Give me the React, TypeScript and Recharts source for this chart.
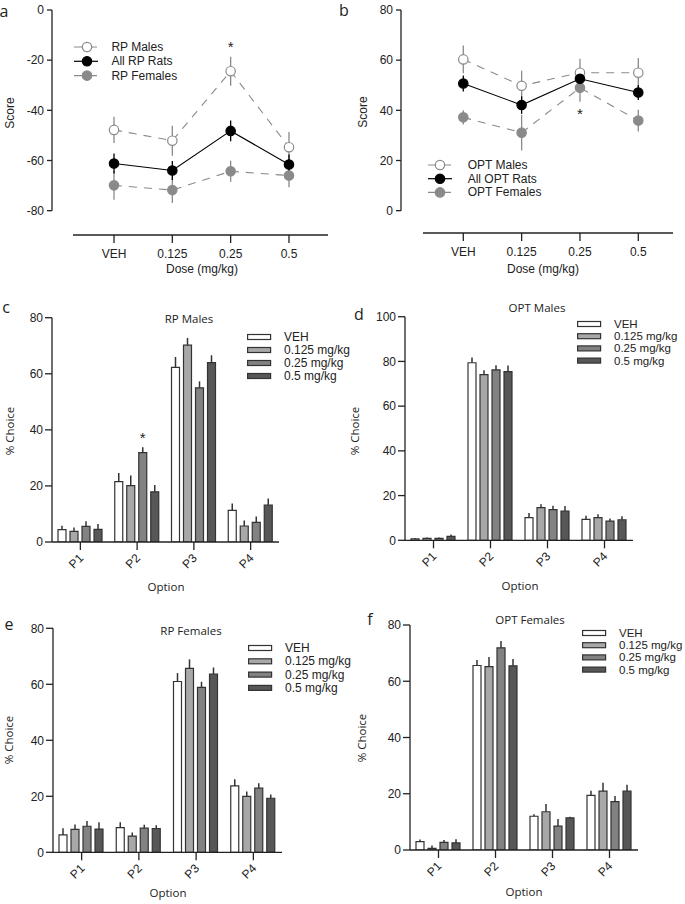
import React from 'react'
import {
  LineChart, Line, BarChart, Bar, XAxis, YAxis, ErrorBar,
  ReferenceLine, Legend, LabelList,
} from 'recharts'

// --- dose-response scores (panels a, b) ---
const doses = ['VEH', '0.125', '0.25', '0.5']

const rpMales = [-47.8, -52.1, -24.4, -54.7]
const rpMalesSem = [5.2, 6.0, 5.8, 6.1]
const rpAll = [-61.2, -64.0, -48.2, -61.6]
const rpAllSem = [4.0, 3.8, 4.1, 4.0]
const rpFemales = [-69.9, -71.8, -64.3, -66.0]
const rpFemalesSem = [5.7, 5.1, 4.2, 4.7]

const optMales = [60.3, 49.8, 55.0, 55.0]
const optMalesSem = [5.5, 6.0, 5.6, 5.9]
const optAll = [50.7, 42.1, 52.6, 47.1]
const optAllSem = [3.2, 3.5, 2.5, 3.0]
const optFemales = [37.2, 31.1, 49.0, 35.9]
const optFemalesSem = [2.8, 7.1, 5.6, 4.3]

// --- % choice per option (panels c-f), rows = VEH, 0.125, 0.25, 0.5 ---
const options = ['P1', 'P2', 'P3', 'P4']
const doseNames = ['VEH', '0.125 mg/kg', '0.25 mg/kg', '0.5 mg/kg']

const rpMalesPct = [
  [4.4, 21.5, 62.3, 11.3],
  [3.8, 20.1, 70.2, 5.7],
  [5.6, 31.9, 55.0, 7.0],
  [4.5, 17.9, 64.0, 13.2],
]
const rpMalesPctSem = [
  [1.4, 3.1, 3.7, 2.4],
  [1.4, 3.6, 2.6, 2.0],
  [1.8, 1.9, 2.3, 2.1],
  [1.9, 2.4, 2.6, 2.3],
]
const optMalesPct = [
  [0.6, 79.4, 10.1, 9.4],
  [0.9, 74.1, 14.6, 10.1],
  [0.9, 76.2, 13.7, 8.6],
  [1.8, 75.4, 13.1, 9.2],
]
const optMalesPctSem = [
  [0.4, 2.4, 2.1, 1.6],
  [0.4, 1.9, 1.5, 1.6],
  [0.4, 2.1, 1.8, 1.2],
  [0.8, 2.8, 2.2, 1.5],
]
const rpFemalesPct = [
  [6.2, 8.8, 61.0, 23.7],
  [8.2, 5.8, 65.7, 20.0],
  [9.3, 8.6, 58.9, 22.9],
  [8.3, 8.5, 63.6, 19.3],
]
const rpFemalesPctSem = [
  [2.4, 1.9, 3.0, 2.4],
  [1.7, 1.3, 3.2, 1.7],
  [1.9, 1.2, 2.0, 1.8],
  [2.4, 1.2, 2.4, 1.3],
]
const optFemalesPct = [
  [3.0, 65.6, 12.0, 19.4],
  [0.6, 65.2, 13.6, 20.9],
  [2.7, 71.9, 8.5, 17.2],
  [2.5, 65.5, 11.4, 20.9],
]
const optFemalesPctSem = [
  [0.7, 2.0, 0.7, 1.7],
  [1.0, 3.4, 2.8, 3.0],
  [0.9, 2.4, 2.5, 2.0],
  [1.3, 2.4, 0.4, 2.3],
]

const barFills = ['#ffffff', '#a8a8a8', '#828282', '#575757']
const GREY = '#8a8a8a'
const INK = '#222'
const ARIAL = '"Liberation Sans", Arial, sans-serif'
const OPEN = '"Open Sans", "Noto Sans", sans-serif'

const tickStyle = { fontSize: 12, fill: INK, fontFamily: ARIAL }
const axisStroke = { stroke: INK, strokeWidth: 1.3 }

const buildDoseRows = (m: number[], me: number[], a: number[], ae: number[], f: number[], fe: number[]) =>
  doses.map((_, i) => ({ x: i, males: m[i], mErr: me[i], all: a[i], aErr: ae[i], females: f[i], fErr: fe[i] }))

const buildChoiceRows = (pct: number[][], sem: number[][]) =>
  options.map((o, i) => {
    const row: any = { option: o }
    pct.forEach((vals, d) => {
      row['d' + d] = vals[i]
      row['e' + d] = [0, sem[d][i]]
    })
    return row
  })

// asterisk drawn above/below a chosen point or bar
const starAt = (idx: number, dy: number) => (p: any) => {
  if (p.index !== idx) return null
  const vb = p.viewBox || p
  return (
    <text x={vb.x + (vb.width || 0) / 2} y={vb.y + dy} textAnchor="middle" fontSize={15} fill={INK} fontFamily={ARIAL}>
      *
    </text>
  )
}

// slanted option labels under the bar groups
const optionTick = (p: any) => (
  <g transform={`translate(${p.x + 1}, ${p.y + 4}) rotate(-45)`}>
    <text x={0} y={0} textAnchor="end" dominantBaseline="central" fontSize={12} fill={INK} fontFamily={ARIAL}>
      {p.payload.value}
    </text>
  </g>
)

function lineKey(names: string[], gap: number, cx: number, tx: number) {
  const styles = [
    { fill: '#fff', stroke: GREY, dash: '8 7' },
    { fill: '#000', stroke: '#000', dash: undefined },
    { fill: GREY, stroke: GREY, dash: '8 7' },
  ]
  return () => (
    <svg width={170} height={gap * 3 + 4}>
      {names.map((n, i) => {
        const cy = 7 + i * gap
        const s = styles[i]
        return (
          <g key={n}>
            <line x1={0} x2={24} y1={cy} y2={cy} stroke={s.stroke} strokeWidth={1.2} strokeDasharray={s.dash} />
            <circle cx={cx} cy={cy} r={4.7} fill={s.fill} stroke={s.stroke} strokeWidth={1.2} />
            <text x={tx} y={cy} dominantBaseline="central" fontSize={12} fill={INK} fontFamily={ARIAL}>{n}</text>
          </g>
        )
      })}
    </svg>
  )
}

function barKey(gap: number, size: number) {
  return () => (
    <svg width={130} height={gap * 4 + 4}>
      {doseNames.map((n, i) => {
        const cy = 7 + i * gap
        return (
          <g key={n}>
            <rect x={0.6} y={cy - 2.5} width={23} height={5} fill={barFills[i]} stroke="#333" strokeWidth={1.2} />
            <text x={37} y={cy} dominantBaseline="central" fontSize={size} fill={INK} fontFamily={ARIAL}>{n}</text>
          </g>
        )
      })}
    </svg>
  )
}

function DosePanel(props: any) {
  const { data, box, margin, yWidth, xDomain, xStart, yDomain, yTicks, yAxisTop, yAxisBottom, legend, legendPos, star } = props
  return (
    <div style={{ position: 'absolute', left: box[0], top: box[1] }}>
      <LineChart width={box[2]} height={box[3]} data={data} margin={margin}>
        <XAxis
          type="number" dataKey="x" domain={xDomain} ticks={[0, 1, 2, 3]} allowDataOverflow
          tickFormatter={(v: number) => doses[v]} axisLine={false} tickLine={axisStroke}
          tickSize={8} tickMargin={6} tick={tickStyle} height={30}
        />
        <YAxis
          type="number" domain={yDomain} ticks={yTicks} allowDataOverflow axisLine={false}
          tickLine={axisStroke} tickSize={5} tickMargin={3} tick={tickStyle} width={yWidth}
        />
        <ReferenceLine
          segment={[{ x: xStart, y: yDomain[0] }, { x: xDomain[1], y: yDomain[0] }]}
          stroke={INK} strokeWidth={1.3} ifOverflow="visible"
        />
        <ReferenceLine
          segment={[{ x: xDomain[0], y: yAxisTop }, { x: xDomain[0], y: yAxisBottom }]}
          stroke={INK} strokeWidth={1.3} ifOverflow="visible"
        />
        <Line
          dataKey="males" stroke={GREY} strokeWidth={1.1} strokeDasharray="8 7" isAnimationActive={false}
          dot={{ r: 4.7, fill: '#fff', stroke: GREY, strokeWidth: 1.2, strokeDasharray: '' }}
        >
          <ErrorBar dataKey="mErr" direction="y" width={0} stroke={GREY} strokeWidth={1.3} />
          {star.series === 'males' && <LabelList dataKey="males" content={starAt(star.index, star.dy)} />}
        </Line>
        <Line
          dataKey="females" stroke={GREY} strokeWidth={1.1} strokeDasharray="8 7" isAnimationActive={false}
          dot={{ r: 4.7, fill: GREY, stroke: GREY, strokeWidth: 1.2, strokeDasharray: '' }}
        >
          <ErrorBar dataKey="fErr" direction="y" width={0} stroke={GREY} strokeWidth={1.3} />
          {star.series === 'females' && <LabelList dataKey="females" content={starAt(star.index, star.dy)} />}
        </Line>
        <Line
          dataKey="all" stroke="#000" strokeWidth={1.1} isAnimationActive={false}
          dot={{ r: 4.7, fill: '#000', stroke: '#000', strokeWidth: 1.2 }}
        >
          <ErrorBar dataKey="aErr" direction="y" width={0} stroke="#000" strokeWidth={1.3} />
        </Line>
        <Legend
          layout="vertical" align="center" verticalAlign="middle" content={legend}
          wrapperStyle={{ left: legendPos[0], top: legendPos[1], width: 170 }}
        />
      </LineChart>
    </div>
  )
}

function ChoicePanel(props: any) {
  const { data, box, margin, yWidth, yDomain, yTicks, legend, legendPos, star } = props
  return (
    <div style={{ position: 'absolute', left: box[0], top: box[1] }}>
      <BarChart width={box[2]} height={box[3]} data={data} margin={margin} barCategoryGap={6} barGap={4}>
        <XAxis
          dataKey="option" axisLine={axisStroke} tickLine={axisStroke} tickSize={8} tickMargin={2}
          tick={optionTick} height={40} interval={0}
        />
        <YAxis
          type="number" domain={yDomain} ticks={yTicks} allowDataOverflow axisLine={axisStroke}
          tickLine={axisStroke} tickSize={7} tickMargin={2} tick={tickStyle} width={yWidth}
        />
        {barFills.map((fill, d) => (
          <Bar key={d} dataKey={'d' + d} fill={fill} stroke="#333" strokeWidth={1.2} isAnimationActive={false}>
            <ErrorBar dataKey={'e' + d} direction="y" width={0} stroke="#333" strokeWidth={1.5} />
            {star && star.bar === d && <LabelList dataKey={'d' + d} content={starAt(star.index, star.dy)} />}
          </Bar>
        ))}
        <Legend
          layout="vertical" align="center" verticalAlign="middle" content={legend}
          wrapperStyle={{ left: legendPos[0], top: legendPos[1], width: 130 }}
        />
      </BarChart>
    </div>
  )
}

const notes = [
  { t: 'a', x: 4, y: 11, size: 16, font: OPEN },
  { t: 'b', x: 344, y: 10, size: 16, font: OPEN },
  { t: 'c', x: 6, y: 307, size: 16, font: OPEN },
  { t: 'd', x: 359, y: 314, size: 16, font: OPEN },
  { t: 'e', x: 9, y: 624, size: 16, font: OPEN },
  { t: 'f', x: 370, y: 619, size: 16, font: OPEN },
  { t: 'Score', x: 10, y: 113, size: 12, font: ARIAL, rot: true },
  { t: 'Score', x: 363, y: 112, size: 12, font: ARIAL, rot: true },
  { t: 'Dose (mg/kg)', x: 202, y: 269, size: 12, font: ARIAL },
  { t: 'Dose (mg/kg)', x: 543, y: 269, size: 12, font: ARIAL },
  { t: 'RP Males', x: 189, y: 319, size: 11.5, font: OPEN },
  { t: 'OPT Males', x: 537, y: 308, size: 11.5, font: OPEN },
  { t: 'RP Females', x: 191, y: 631, size: 11.5, font: OPEN },
  { t: 'OPT Females', x: 530, y: 620, size: 11.5, font: OPEN },
  { t: '% Choice', x: 10, y: 431, size: 11.5, font: OPEN, rot: true },
  { t: '% Choice', x: 355, y: 431, size: 11.5, font: OPEN, rot: true },
  { t: '% Choice', x: 9, y: 740, size: 11.5, font: OPEN, rot: true },
  { t: '% Choice', x: 362, y: 738, size: 11.5, font: OPEN, rot: true },
  { t: 'Option', x: 166, y: 587, size: 11.5, font: OPEN },
  { t: 'Option', x: 520, y: 586, size: 11.5, font: OPEN },
  { t: 'Option', x: 168, y: 893, size: 11.5, font: OPEN },
  { t: 'Option', x: 524, y: 892, size: 11.5, font: OPEN },
]

export default function App() {
  return (
    <div style={{ position: 'absolute', left: 0, top: 0, width: 685, height: 904, background: '#fff', overflow: 'hidden' }}>
      <DosePanel
        data={buildDoseRows(rpMales, rpMalesSem, rpAll, rpAllSem, rpFemales, rpFemalesSem)}
        box={[0, 0, 340, 290]} margin={{ top: 10, right: 12, left: 0, bottom: 25 }} yWidth={52}
        xDomain={[-1.063, 3.669]} xStart={-0.703} yDomain={[-89.7, 0]} yTicks={[-80, -60, -40, -20, 0]}
        yAxisTop={0} yAxisBottom={-80}
        legend={lineKey(['RP Males', 'All RP Rats', 'RP Females'], 14.3, 13, 37.4)} legendPos={[74, 40]}
        star={{ series: 'males', index: 2, dy: -19 }}
      />
      <DosePanel
        data={buildDoseRows(optMales, optMalesSem, optAll, optAllSem, optFemales, optFemalesSem)}
        box={[340, 0, 345, 290]} margin={{ top: 10, right: 12, left: 0, bottom: 27 }} yWidth={61}
        xDomain={[-1.068, 3.595]} xStart={-0.691} yDomain={[-8.9, 80]} yTicks={[0, 20, 40, 60, 80]}
        yAxisTop={80} yAxisBottom={0}
        legend={lineKey(['OPT Males', 'All OPT Rats', 'OPT Females'], 13.7, 12, 39.7)} legendPos={[88, 158]}
        star={{ series: 'females', index: 2, dy: 31 }}
      />
      <ChoicePanel
        data={buildChoiceRows(rpMalesPct, rpMalesPctSem)}
        box={[0, 290, 360, 310]} margin={{ top: 27.7, right: 81, left: 0, bottom: 18 }} yWidth={52}
        yDomain={[0, 80]} yTicks={[0, 20, 40, 60, 80]} legend={barKey(13, 12)} legendPos={[246.7, 40]}
        star={{ bar: 2, index: 1, dy: -10 }}
      />
      <ChoicePanel
        data={buildChoiceRows(optMalesPct, optMalesPctSem)}
        box={[340, 290, 345, 310]} margin={{ top: 26.7, right: 52, left: 0, bottom: 19.7 }} yWidth={65}
        yDomain={[0, 100]} yTicks={[0, 20, 40, 60, 80, 100]} legend={barKey(12.2, 11.5)} legendPos={[236.7, 27]}
      />
      <ChoicePanel
        data={buildChoiceRows(rpFemalesPct, rpFemalesPctSem)}
        box={[0, 600, 360, 304]} margin={{ top: 28.3, right: 78, left: 0, bottom: 11.7 }} yWidth={53}
        yDomain={[0, 80]} yTicks={[0, 20, 40, 60, 80]} legend={barKey(13.3, 12)} legendPos={[248.3, 40.5]}
      />
      <ChoicePanel
        data={buildChoiceRows(optFemalesPct, optFemalesPctSem)}
        box={[340, 600, 345, 304]} margin={{ top: 25, right: 47, left: 0, bottom: 14 }} yWidth={70}
        yDomain={[0, 80]} yTicks={[0, 20, 40, 60, 80]} legend={barKey(12.2, 11.5)} legendPos={[241.7, 26]}
      />
      {notes.map((n, i) => (
        <div
          key={i}
          style={{
            position: 'absolute', left: n.x, top: n.y, whiteSpace: 'nowrap', lineHeight: 1,
            fontSize: n.size, fontFamily: n.font, color: INK,
            transform: 'translate(-50%, -50%)' + (n.rot ? ' rotate(-90deg)' : ''),
          }}
        >
          {n.t}
        </div>
      ))}
    </div>
  )
}
